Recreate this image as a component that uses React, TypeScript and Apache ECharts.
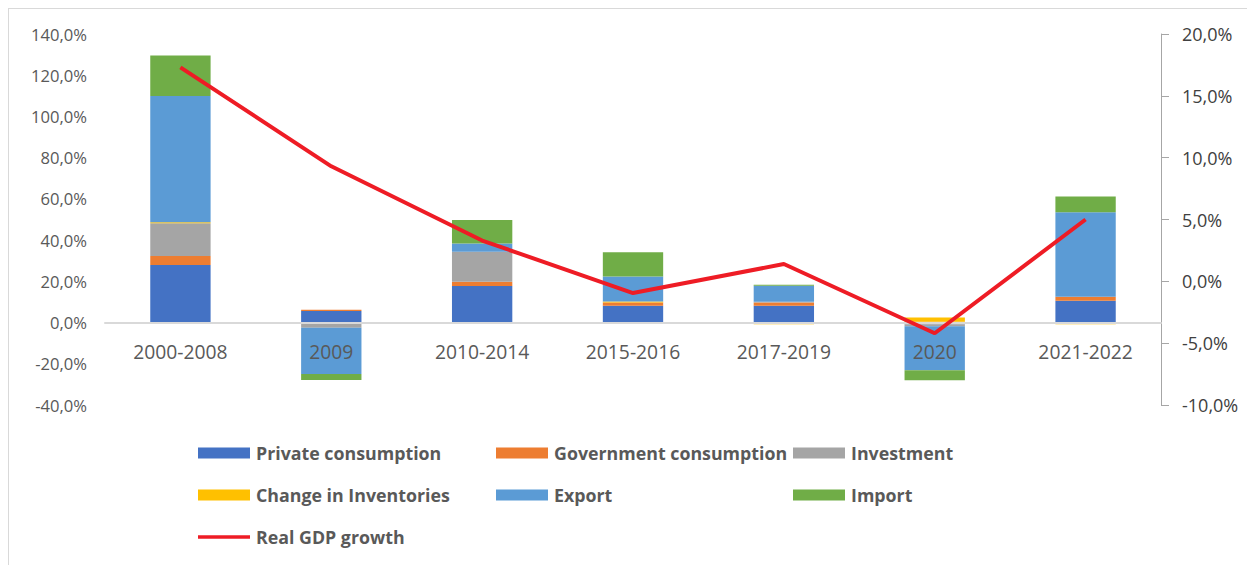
import React, { useEffect, useRef } from "react";
import * as echarts from "echarts";

const categories = ["2000-2008", "2009", "2010-2014", "2015-2016", "2017-2019", "2020", "2021-2022"];
const privateConsumption = [27.9, 5.6, 17.7, 8.2, 8.2, -0.8, 10.6];
const governmentConsumption = [4.4, 0.6, 2.1, 1.5, 1.5, 0.4, 1.9];
const investment = [15.9, -2.5, 14.6, 0, 0.4, -1.0, 0];
const inventories = [0.5, 0, 0, 0.5, -0.8, 2.0, -0.8];
const exportValues = [61.2, -22.5, 4.0, 12.1, 7.8, -21.3, 41.0];
const importValues = [19.7, -2.9, 11.3, 11.8, 0.5, -4.9, 7.6];
const gdpGrowth = [17.3, 9.3, 3.3, -0.95, 1.4, -4.2, 5.0];

const FONT = "'Open Sans', sans-serif";
const fmt = (v: number) => v.toFixed(1).replace(".", ",") + "%";

const LEFT_MIN = -40;
const LEFT_MAX = 140;
const GRID_TOP = 25;
const GRID_BOTTOM = 160;
const CHART_H = 556;

export default function App() {
  const ref = useRef<HTMLDivElement>(null);
  useEffect(() => {
    if (!ref.current) return;
    document.body.style.background = "#ffffff";
    const chart = echarts.init(ref.current, undefined, { renderer: "svg" });
    const gridH = CHART_H - GRID_TOP - GRID_BOTTOM;
    // offset that moves the category axis up to the left axis' zero
    const zeroOffset = -(gridH * (0 - LEFT_MIN)) / (LEFT_MAX - LEFT_MIN);
    const barSeries = (name: string, data: number[], color: string) => ({
      name,
      type: "bar",
      stack: "total",
      barWidth: "40%",
      data,
      itemStyle: { color },
      emphasis: { disabled: true },
    });
    const legendText = {
      fontFamily: FONT,
      fontWeight: "bold",
      fontSize: 17.8,
      color: "#595959",
      lineHeight: 20,
      padding: [0, 0, 0, 1],
    };
    const legendBase = {
      orient: "vertical",
      top: 429,
      itemGap: 22,
      itemWidth: 52,
      itemHeight: 11,
      textStyle: legendText,
      selectedMode: false,
      symbolKeepAspect: true,
    };
    chart.setOption({
      animation: false,
      textStyle: { fontFamily: FONT },
      grid: { left: 96, right: 94, top: GRID_TOP, bottom: GRID_BOTTOM },
      legend: [
        {
          ...legendBase,
          left: 184,
          data: [
            { name: "Private consumption", icon: "rect" },
            { name: "Change in Inventories", icon: "rect" },
            {
              name: "Real GDP growth",
              icon: "path://M0 0H52V3.5H0Z",
              itemStyle: { color: "#ee1c25", borderWidth: 0 },
              lineStyle: { width: 0 },
            },
          ],
        },
        {
          ...legendBase,
          left: 482,
          data: [
            { name: "Government consumption", icon: "rect" },
            { name: "Export", icon: "rect" },
          ],
        },
        {
          ...legendBase,
          left: 779,
          data: [
            { name: "Investment", icon: "rect" },
            { name: "Import", icon: "rect" },
          ],
        },
      ],
      xAxis: {
        type: "category",
        data: categories,
        z: 10,
        offset: zeroOffset,
        axisLine: { onZero: false, lineStyle: { color: "#d9d9d9", width: 2 } },
        axisTick: { show: false },
        axisLabel: { color: "#595959", fontSize: 19.3, margin: 19, fontFamily: FONT },
      },
      yAxis: [
        {
          type: "value",
          min: LEFT_MIN,
          max: LEFT_MAX,
          interval: 20,
          splitLine: { show: false },
          axisLine: { show: false },
          axisTick: { show: false },
          axisLabel: { color: "#595959", fontSize: 16.6, margin: 18, formatter: fmt, fontFamily: FONT },
        },
        {
          type: "value",
          min: -10,
          max: 20,
          interval: 5,
          position: "right",
          splitLine: { show: false },
          axisLine: { show: true, lineStyle: { color: "#a6a6a6", width: 1 } },
          axisTick: { show: true, length: 8, lineStyle: { color: "#a6a6a6" } },
          axisLabel: { color: "#404040", fontSize: 18, margin: 21, formatter: fmt, fontFamily: FONT },
        },
      ],
      series: [
        barSeries("Private consumption", privateConsumption, "#4472c4"),
        barSeries("Government consumption", governmentConsumption, "#ed7d31"),
        barSeries("Investment", investment, "#a5a5a5"),
        barSeries("Change in Inventories", inventories, "#ffc000"),
        barSeries("Export", exportValues, "#5b9bd5"),
        barSeries("Import", importValues, "#70ad47"),
        {
          name: "Real GDP growth",
          type: "line",
          yAxisIndex: 1,
          data: gdpGrowth,
          symbol: "none",
          z: 20,
          itemStyle: { color: "#ee1c25" },
          lineStyle: { color: "#ee1c25", width: 4 },
          emphasis: { disabled: true },
        },
      ],
    });
    return () => chart.dispose();
  }, []);
  return (
    <div
      ref={ref}
      style={{
        width: 1247,
        height: 557,
        boxSizing: "border-box",
        borderLeft: "1px solid #d9d9d9",
        borderTop: "1px solid #d9d9d9",
        background: "#ffffff",
      }}
    />
  );
}
